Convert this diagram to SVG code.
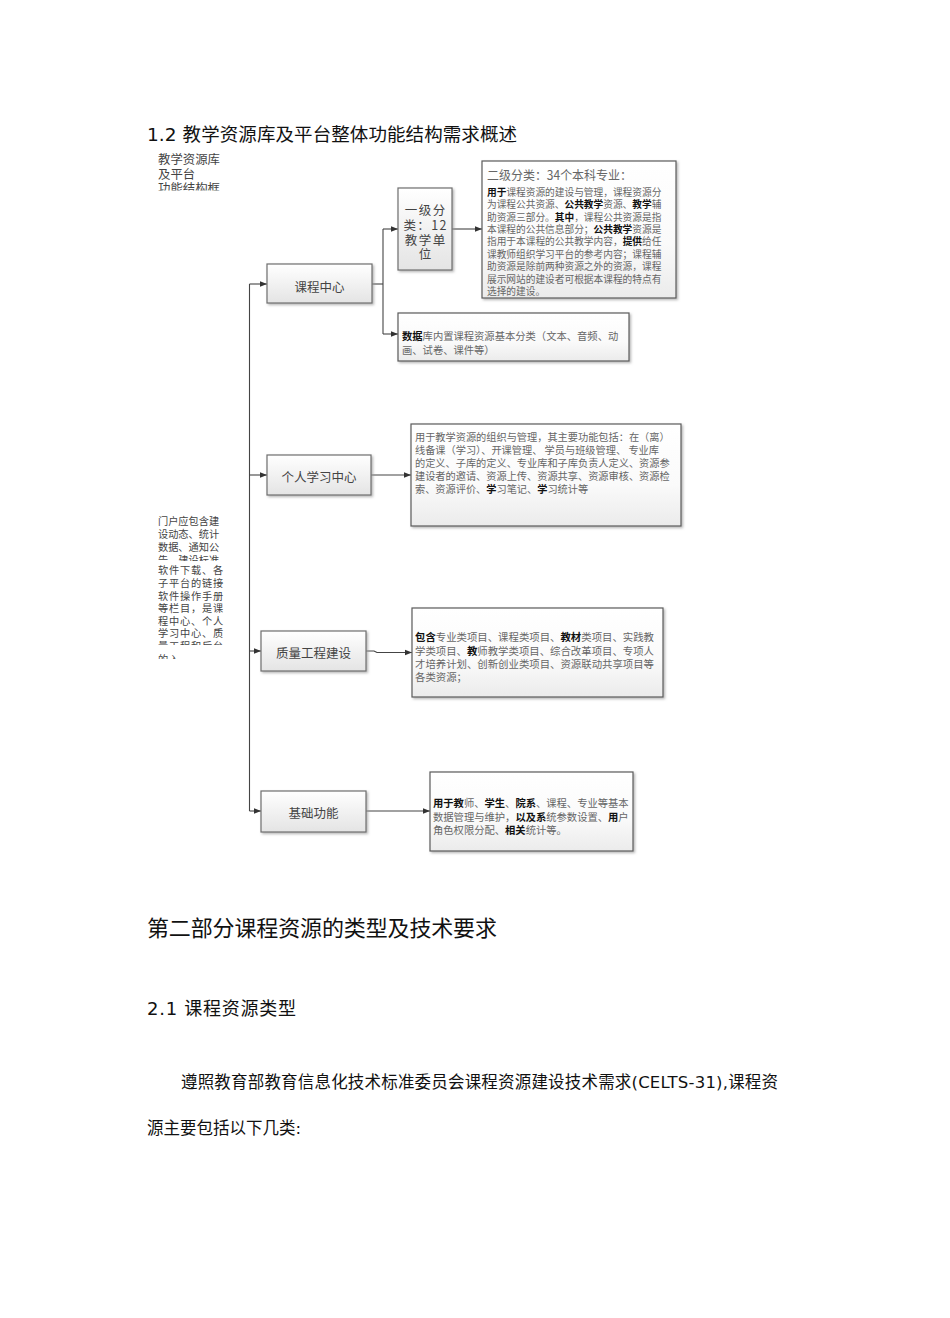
<svg xmlns="http://www.w3.org/2000/svg" width="950" height="1318" viewBox="0 0 950 1318">
<style>
.h{font-family:"DejaVu Sans","Noto Sans CJK SC",sans-serif;fill:#111}
.lt{font-family:"Noto Sans CJK SC",sans-serif;fill:#444;font-size:12.4px}
.lm{font-family:"Noto Sans CJK SC",sans-serif;fill:#444;font-size:10.2px}
.nd{fill:url(#gn);stroke:#6e6e6e;stroke-width:1.2;filter:url(#sh)}
.bx{fill:url(#gb);stroke:#5a5a5a;stroke-width:1.2;filter:url(#sh)}
.nt{font-family:"Noto Sans CJK SC",sans-serif;font-size:12.5px;fill:#444;text-anchor:middle}
.bt{font-family:"Noto Sans CJK SC",sans-serif;fill:#666}
.b{font-weight:bold;fill:#111}
.c{fill:none;stroke:#444;stroke-width:1.1}
.ca{fill:none;stroke:#444;stroke-width:1.1;marker-end:url(#ah)}
</style>
<defs>
<linearGradient id="gn" x1="0" y1="0" x2="0" y2="1"><stop offset="0" stop-color="#ffffff"/><stop offset="1" stop-color="#e4e4e4"/></linearGradient>
<linearGradient id="gb" x1="0" y1="0" x2="0" y2="1"><stop offset="0" stop-color="#ffffff"/><stop offset="0.6" stop-color="#fafafa"/><stop offset="1" stop-color="#ebebeb"/></linearGradient>
<filter id="sh" x="-10%" y="-10%" width="130%" height="130%"><feDropShadow dx="1.5" dy="1.5" stdDeviation="1" flood-color="#999" flood-opacity="0.7"/></filter>
<marker id="ah" viewBox="0 0 8 8" refX="8" refY="4" markerWidth="7" markerHeight="7" markerUnits="userSpaceOnUse" orient="auto"><path d="M0,0.8 L8,4 L0,7.2 Z" fill="#333"/></marker>
<clipPath id="cl1"><rect x="150" y="140" width="90" height="50.5"/></clipPath>
<clipPath id="cl2"><rect x="150" y="505" width="90" height="56"/></clipPath>
<clipPath id="cl3"><rect x="150" y="563" width="90" height="82"/></clipPath>
<clipPath id="cl4"><rect x="150" y="649" width="90" height="10"/></clipPath>
<clipPath id="cl5"><rect x="482" y="161" width="194" height="137"/></clipPath>
</defs>

<rect width="950" height="1318" fill="#ffffff"/>

<text class="h" x="147" y="141" font-size="18.5" textLength="370">1.2 教学资源库及平台整体功能结构需求概述</text>

<g id="left-top-text" clip-path="url(#cl1)">
<text class="lt" x="158" y="163.7">教学资源库</text>
<text class="lt" x="158" y="178.7">及平台</text>
<text class="lt" x="158" y="192.7">功能结构框</text>
</g>

<g id="left-mid-text">
<g clip-path="url(#cl2)">
<text class="lm" x="158" y="525">门户应包含建</text>
<text class="lm" x="158" y="538">设动态、统计</text>
<text class="lm" x="158" y="551">数据、通知公</text>
<text class="lm" x="158" y="564">告、建设标准、</text>
</g>
<g clip-path="url(#cl3)" letter-spacing="0.8">
<text class="lm" x="158" y="574">软件下载、各</text>
<text class="lm" x="158" y="587">子平台的链接</text>
<text class="lm" x="158" y="599.5">软件操作手册</text>
<text class="lm" x="158" y="612">等栏目，是课</text>
<text class="lm" x="158" y="624.5">程中心、个人</text>
<text class="lm" x="158" y="637">学习中心、质</text>
<text class="lm" x="158" y="650">量工程和后台</text>
</g>
<g clip-path="url(#cl4)" letter-spacing="0.8">
<text class="lm" x="158" y="663">的入</text>
</g>
</g>

<g id="connectors">
<path class="c" d="M249.5,284 V811"/>
<path class="ca" d="M249.5,284 H267"/>
<path class="ca" d="M249.5,475 H267"/>
<path class="ca" d="M249.5,651 H261"/>
<path class="ca" d="M249.5,811 H261"/>
<path class="c" d="M372,284 H383"/>
<path class="c" d="M383,229 V334"/>
<path class="ca" d="M383,229 H398"/>
<path class="ca" d="M383,334 H398"/>
<path class="ca" d="M452,229 H482"/>
<path class="ca" d="M371,475 H411"/>
<path class="ca" d="M366,651 H374 L377,652.5 H412"/>
<path class="ca" d="M366,811 H430"/>
</g>

<g id="n-kecheng">
<rect class="nd" x="267" y="264" width="105" height="39"/>
<text class="nt" x="319.5" y="291.5">课程中心</text>
</g>

<g id="n-yiji">
<rect class="nd" x="398" y="188" width="54" height="82"/>
<g font-size="12" letter-spacing="1.4">
<text class="nt" x="425.7" y="215">一级分</text>
<text class="nt" x="425.7" y="229.5">类：12</text>
<text class="nt" x="425.7" y="244.5">教学单</text>
<text class="nt" x="425.7" y="259">位</text>
</g>
</g>

<g id="n-erji">
<rect class="bx" x="482" y="161" width="194" height="137"/>
<text class="bt" x="487" y="179.5" font-size="12.5" fill="#444" textLength="145" lengthAdjust="spacingAndGlyphs">二级分类：34个本科专业：</text>
<g clip-path="url(#cl5)" font-size="9.7">
<text class="bt" x="487" y="195.7"><tspan class="b">用于</tspan>课程资源的建设与管理，课程资源分</text>
<text class="bt" x="487" y="208.1">为课程公共资源、<tspan class="b">公共教学</tspan>资源、<tspan class="b">教学</tspan>辅</text>
<text class="bt" x="487" y="220.5">助资源三部分。<tspan class="b">其中</tspan>，课程公共资源是指</text>
<text class="bt" x="487" y="232.9">本课程的公共信息部分；<tspan class="b">公共教学</tspan>资源是</text>
<text class="bt" x="487" y="245.3">指用于本课程的公共教学内容，<tspan class="b">提供</tspan>给任</text>
<text class="bt" x="487" y="257.7">课教师组织学习平台的参考内容；课程辅</text>
<text class="bt" x="487" y="270.1">助资源是除前两种资源之外的资源，课程</text>
<text class="bt" x="487" y="282.5">展示网站的建设者可根据本课程的特点有</text>
<text class="bt" x="487" y="294.9">选择的建设。</text>
</g>
</g>

<g id="n-shujuku">
<rect class="bx" x="398" y="313" width="231" height="48"/>
<text class="bt" x="402" y="340" font-size="10.3"><tspan class="b">数据</tspan>库内置课程资源基本分类（文本、音频、动</text>
<text class="bt" x="402" y="353.5" font-size="10.3">画、试卷、课件等）</text>
</g>

<g id="n-geren">
<rect class="nd" x="267" y="455" width="104" height="40"/>
<text class="nt" x="319" y="482">个人学习中心</text>
</g>

<g id="n-geren-desc">
<rect class="bx" x="411" y="424" width="270" height="102"/>
<g font-size="10.2">
<text class="bt" x="415" y="441">用于教学资源的组织与管理，其主要功能包括：在（离）</text>
<text class="bt" x="415" y="454">线备课（学习）、开课管理、 学员与班级管理、 专业库</text>
<text class="bt" x="415" y="467">的定义、子库的定义、专业库和子库负责人定义、资源参</text>
<text class="bt" x="415" y="480">建设者的邀请、资源上传、资源共享、资源审核、资源检</text>
<text class="bt" x="415" y="493">索、资源评价、<tspan class="b">学</tspan>习笔记、<tspan class="b">学</tspan>习统计等</text>
</g>
</g>

<g id="n-zhiliang">
<rect class="nd" x="261" y="631" width="105" height="40"/>
<text class="nt" x="313.5" y="658">质量工程建设</text>
</g>

<g id="n-zhiliang-desc">
<rect class="bx" x="412" y="608" width="251" height="89"/>
<g font-size="10.4">
<text class="bt" x="415" y="641"><tspan class="b">包含</tspan>专业类项目、课程类项目、<tspan class="b">教材</tspan>类项目、实践教</text>
<text class="bt" x="415" y="655">学类项目、<tspan class="b">教</tspan>师教学类项目、综合改革项目、专项人</text>
<text class="bt" x="415" y="668">才培养计划、创新创业类项目、资源联动共享项目等</text>
<text class="bt" x="415" y="681">各类资源；</text>
</g>
</g>

<g id="n-jichu">
<rect class="nd" x="261" y="791" width="105" height="41"/>
<text class="nt" x="313.5" y="818">基础功能</text>
</g>

<g id="n-jichu-desc">
<rect class="bx" x="430" y="772" width="203" height="79"/>
<g font-size="10.3">
<text class="bt" x="433" y="807"><tspan class="b">用于教</tspan>师、<tspan class="b">学生</tspan>、<tspan class="b">院系</tspan>、课程、专业等基本</text>
<text class="bt" x="433" y="821">数据管理与维护，<tspan class="b">以及系</tspan>统参数设置、<tspan class="b">用</tspan>户</text>
<text class="bt" x="433" y="834">角色权限分配、<tspan class="b">相关</tspan>统计等。</text>
</g>
</g>

<text class="h" x="147" y="936" font-size="22" textLength="350">第二部分课程资源的类型及技术要求</text>
<text class="h" x="147" y="1015" font-size="18" textLength="149">2.1 课程资源类型</text>
<text class="h" x="181" y="1088" font-size="16.5" textLength="597">遵照教育部教育信息化技术标准委员会课程资源建设技术需求(CELTS-31),课程资</text>
<text class="h" x="147" y="1134" font-size="16.5">源主要包括以下几类:</text>
</svg>
